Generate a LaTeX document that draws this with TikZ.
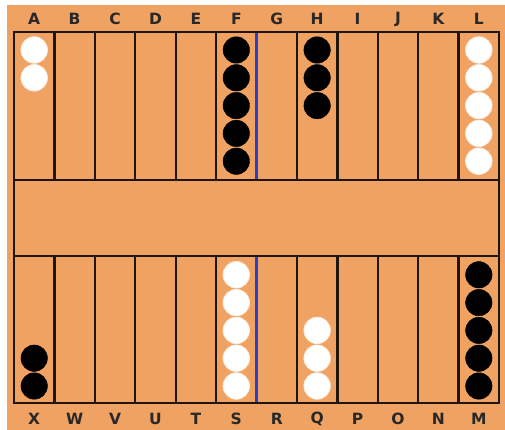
\documentclass[tikz,border=0pt]{standalone}
\usepackage{fontspec}
\setmainfont{DejaVu Sans}
\definecolor{board}{RGB}{240,162,98}
\definecolor{ink}{RGB}{30,22,14}
\definecolor{bar}{RGB}{35,65,205}
\definecolor{lab}{RGB}{40,40,40}
\tikzset{
  wchk/.style={circle,fill=white,draw=white!80!board,line width=0.8pt,minimum size=26.5pt,inner sep=0pt},
  bchk/.style={circle,fill=black,draw=black,minimum size=26.5pt,inner sep=0pt},
  lbl/.style={font=\bfseries\fontsize{15.5}{15.5}\selectfont,text=lab,inner sep=0pt,anchor=center},
  edge/.style={draw=ink,line width=2.3pt},
}
\begin{document}
\begin{tikzpicture}[x=1pt,y=-1pt]
\useasboundingbox (0,0) rectangle (505,430);
\fill[white] (0,0) rectangle (505,430);
\fill[board] (7,5) rectangle (505,430);
% column separators
\foreach \i in {1,...,11}{
  \pgfmathsetmacro\xx{14+\i*40.42}
  \ifnum\i=6
    \draw[draw=bar,line width=2.8pt] (\xx,32) -- (\xx,180);
    \draw[draw=bar,line width=2.8pt] (\xx,256) -- (\xx,403);
  \else
    \draw[edge] (\xx,32) -- (\xx,180);
    \draw[edge] (\xx,256) -- (\xx,403);
  \fi
}
\draw[edge] (14,32) rectangle (499,403);
\draw[edge] (14,180) -- (499,180);
\draw[edge] (14,256) -- (499,256);
% labels
\foreach \l [count=\i from 0] in {A,B,C,D,E,F,G,H,I,J,K,L}{
  \node[lbl] (t\l) at ({34.2+\i*40.42},19) {\l};
}
\foreach \l [count=\i from 0] in {X,W,V,U,T,S,R,Q,P,O,N,M}{
  \node[lbl] (b\l) at ({34.2+\i*40.42},419) {\l};
}
% checkers top
\foreach \k in {0,1} \node[wchk] (a\k) at (34.2,{50+\k*27.8}) {};
\foreach \k in {0,...,4} \node[bchk] (f\k) at ({34.2+5*40.42},{50+\k*27.8}) {};
\foreach \k in {0,...,2} \node[bchk] (h\k) at ({34.2+7*40.42},{50+\k*27.8}) {};
\foreach \k in {0,...,4} \node[wchk] (l\k) at ({34.2+11*40.42},{50+\k*27.8}) {};
% checkers bottom
\foreach \k in {0,1} \node[bchk] (x\k) at (34.2,{386-\k*27.8}) {};
\foreach \k in {0,...,4} \node[wchk] (s\k) at ({34.2+5*40.42},{386-\k*27.8}) {};
\foreach \k in {0,...,2} \node[wchk] (q\k) at ({34.2+7*40.42},{386-\k*27.8}) {};
\foreach \k in {0,...,4} \node[bchk] (m\k) at ({34.2+11*40.42},{386-\k*27.8}) {};
\end{tikzpicture}
\end{document}
